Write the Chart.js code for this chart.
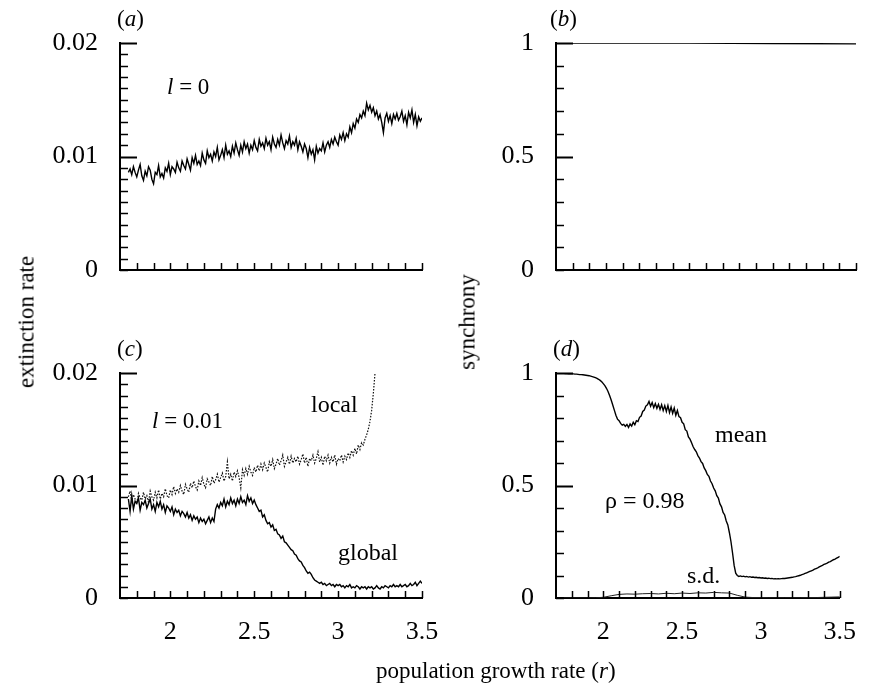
<!DOCTYPE html>
<html><head><meta charset="utf-8">
<script src="https://cdn.jsdelivr.net/npm/chart.js@4/dist/chart.umd.min.js"></script>
<style>
html,body{margin:0;padding:0;background:#fff;}
#wrap{position:relative;width:875px;height:689px;overflow:hidden;font-family:"Liberation Serif","Times New Roman",serif;color:#000;background:#fff;}
canvas{position:absolute;left:0;top:0;}
.t{position:absolute;white-space:nowrap;line-height:1;}
.rot{position:absolute;white-space:nowrap;line-height:1;transform:translate(-50%,-50%) rotate(-90deg);}
</style></head><body>
<div id="wrap">
<canvas id="ca" width="875" height="689"></canvas>
<canvas id="cb" width="875" height="689"></canvas>
<canvas id="cc" width="875" height="689"></canvas>
<canvas id="cd" width="875" height="689"></canvas>
</div>
<script>
// ---------- data ----------
const r = [
1.75,1.76,1.77,1.78,1.79,1.80,1.81,1.82,1.83,1.84,
1.85,1.86,1.87,1.88,1.89,1.90,1.91,1.92,1.93,1.94,
1.95,1.96,1.97,1.98,1.99,2.00,2.01,2.02,2.03,2.04,
2.05,2.06,2.07,2.08,2.09,2.10,2.11,2.12,2.13,2.14,
2.15,2.16,2.17,2.18,2.19,2.20,2.21,2.22,2.23,2.24,
2.25,2.26,2.27,2.28,2.29,2.30,2.31,2.32,2.33,2.34,
2.35,2.36,2.37,2.38,2.39,2.40,2.41,2.42,2.43,2.44,
2.45,2.46,2.47,2.48,2.49,2.50,2.51,2.52,2.53,2.54,
2.55,2.56,2.57,2.58,2.59,2.60,2.61,2.62,2.63,2.64,
2.65,2.66,2.67,2.68,2.69,2.70,2.71,2.72,2.73,2.74,
2.75,2.76,2.77,2.78,2.79,2.80,2.81,2.82,2.83,2.84,
2.85,2.86,2.87,2.88,2.89,2.90,2.91,2.92,2.93,2.94,
2.95,2.96,2.97,2.98,2.99,3.00,3.01,3.02,3.03,3.04,
3.05,3.06,3.07,3.08,3.09,3.10,3.11,3.12,3.13,3.14,
3.15,3.16,3.17,3.18,3.19,3.20,3.21,3.22,3.23,3.24,
3.25,3.26,3.27,3.28,3.29,3.30,3.31,3.32,3.33,3.34,
3.35,3.36,3.37,3.38,3.39,3.40,3.41,3.42,3.43,3.44,
3.45,3.46,3.47,3.48,3.49,3.50];

// (a) extinction rate, l = 0
const extinctionA = [
0.0086,0.0089,0.0084,0.0091,0.0086,0.0082,0.0088,0.0093,0.0083,0.0079,
0.0087,0.0083,0.0091,0.0088,0.0080,0.0076,0.0086,0.0084,0.0092,0.0082,
0.0085,0.0081,0.0090,0.0087,0.0094,0.0084,0.0091,0.0089,0.0086,0.0095,
0.0090,0.0087,0.0096,0.0092,0.0089,0.0098,0.0093,0.0088,0.0099,0.0094,
0.0101,0.0093,0.0096,0.0092,0.0103,0.0097,0.0094,0.0105,0.0099,0.0102,
0.0096,0.0104,0.0100,0.0108,0.0097,0.0101,0.0106,0.0099,0.0110,0.0102,
0.0105,0.0100,0.0109,0.0103,0.0112,0.0106,0.0101,0.0110,0.0104,0.0113,
0.0107,0.0111,0.0103,0.0110,0.0106,0.0114,0.0108,0.0105,0.0115,0.0109,
0.0112,0.0107,0.0116,0.0110,0.0113,0.0106,0.0117,0.0111,0.0108,0.0115,
0.0110,0.0119,0.0112,0.0107,0.0114,0.0111,0.0118,0.0108,0.0113,0.0110,
0.0116,0.0106,0.0113,0.0109,0.0104,0.0111,0.0107,0.0099,0.0108,0.0102,
0.0106,0.0097,0.0109,0.0103,0.0107,0.0105,0.0112,0.0104,0.0110,0.0113,
0.0108,0.0115,0.0111,0.0117,0.0113,0.0110,0.0119,0.0115,0.0121,0.0114,
0.0120,0.0117,0.0126,0.0121,0.0129,0.0125,0.0133,0.0130,0.0137,0.0134,
0.0140,0.0136,0.0147,0.0141,0.0145,0.0139,0.0143,0.0136,0.0140,0.0133,
0.0137,0.0130,0.0121,0.0134,0.0138,0.0131,0.0136,0.0129,0.0137,0.0133,
0.0138,0.0132,0.0135,0.0140,0.0131,0.0136,0.0128,0.0139,0.0134,0.0141,
0.0130,0.0137,0.0127,0.0135,0.0131,0.0134];

// (b) synchrony, l = 0
const rB = [1.75, 2.0, 2.5, 3.0, 3.5];
const synchronyB = [1, 1, 1, 0.998, 0.996];

// (c) extinction rate, l = 0.01
const localC = [
0.0090,0.0095,0.0086,0.0092,0.0088,0.0084,0.0093,0.0089,0.0087,0.0094,
0.0088,0.0091,0.0085,0.0095,0.0090,0.0087,0.0094,0.0089,0.0096,0.0088,
0.0093,0.0090,0.0097,0.0091,0.0089,0.0096,0.0092,0.0099,0.0093,0.0097,
0.0094,0.0100,0.0095,0.0092,0.0101,0.0097,0.0094,0.0102,0.0098,0.0104,
0.0099,0.0096,0.0104,0.0100,0.0107,0.0101,0.0098,0.0106,0.0103,0.0100,
0.0108,0.0102,0.0105,0.0110,0.0103,0.0107,0.0111,0.0104,0.0108,0.0121,
0.0106,0.0110,0.0104,0.0112,0.0108,0.0113,0.0107,0.0098,0.0114,0.0109,
0.0115,0.0110,0.0117,0.0112,0.0109,0.0116,0.0112,0.0118,0.0113,0.0119,
0.0114,0.0120,0.0116,0.0112,0.0121,0.0117,0.0123,0.0115,0.0119,0.0124,
0.0118,0.0122,0.0127,0.0117,0.0121,0.0125,0.0119,0.0126,0.0120,0.0124,
0.0121,0.0126,0.0119,0.0123,0.0128,0.0120,0.0125,0.0117,0.0124,0.0122,
0.0127,0.0120,0.0124,0.0130,0.0121,0.0125,0.0118,0.0126,0.0122,0.0127,
0.0120,0.0125,0.0121,0.0127,0.0119,0.0124,0.0122,0.0127,0.0121,0.0126,
0.0123,0.0129,0.0125,0.0131,0.0127,0.0133,0.0128,0.0136,0.0132,0.0138,
0.0136,0.0141,0.0145,0.0150,0.0157,0.0167,0.0182,0.0200];
const globalC = [
0.0088,0.0077,0.0091,0.0079,0.0086,0.0084,0.0089,0.0078,0.0085,0.0083,
0.0087,0.0080,0.0084,0.0088,0.0079,0.0083,0.0077,0.0085,0.0081,0.0086,
0.0079,0.0083,0.0076,0.0082,0.0080,0.0077,0.0081,0.0074,0.0079,0.0076,
0.0078,0.0073,0.0077,0.0075,0.0072,0.0076,0.0071,0.0074,0.0069,0.0073,
0.0070,0.0072,0.0067,0.0071,0.0068,0.0070,0.0066,0.0069,0.0072,0.0067,
0.0071,0.0068,0.0079,0.0083,0.0080,0.0085,0.0082,0.0088,0.0081,0.0086,
0.0083,0.0089,0.0084,0.0087,0.0082,0.0088,0.0084,0.0090,0.0085,0.0087,
0.0083,0.0091,0.0086,0.0089,0.0084,0.0087,0.0083,0.0080,0.0077,0.0078,
0.0072,0.0074,0.0069,0.0066,0.0067,0.0063,0.0065,0.0060,0.0061,0.0057,
0.0056,0.0053,0.0055,0.0050,0.0049,0.0047,0.0045,0.0043,0.0042,0.0039,
0.0038,0.0035,0.0033,0.0032,0.0029,0.0027,0.0024,0.0022,0.0023,0.0021,
0.0018,0.0016,0.0015,0.0014,0.0013,0.0014,0.0012,0.0013,0.0011,0.0012,
0.0013,0.0011,0.0012,0.0010,0.0012,0.0011,0.0012,0.0010,0.0011,0.0009,
0.0011,0.0010,0.0012,0.0009,0.0010,0.0009,0.0011,0.0010,0.0008,0.0010,
0.0009,0.0010,0.0008,0.0010,0.0009,0.0010,0.0008,0.0009,0.0011,0.0009,
0.0008,0.0010,0.0009,0.0011,0.0010,0.0009,0.0011,0.0010,0.0012,0.0010,
0.0011,0.0010,0.0012,0.0010,0.0011,0.0012,0.0010,0.0011,0.0013,0.0011,
0.0012,0.0014,0.0011,0.0013,0.0015,0.0013];

// (d) synchrony, rho = 0.98
const meanD = [
0.999,0.998,0.998,0.997,0.997,0.996,0.996,0.995,0.995,0.994,
0.993,0.993,0.992,0.991,0.990,0.989,0.988,0.986,0.984,0.982,
0.979,0.976,0.972,0.967,0.961,0.953,0.944,0.932,0.918,0.900,
0.880,0.858,0.835,0.812,0.795,0.788,0.776,0.768,0.772,0.763,
0.771,0.758,0.774,0.764,0.781,0.770,0.788,0.784,0.803,0.809,
0.829,0.835,0.853,0.859,0.874,0.852,0.869,0.846,0.864,0.843,
0.861,0.838,0.859,0.833,0.855,0.829,0.856,0.824,0.849,0.821,
0.844,0.812,0.833,0.806,0.801,0.781,0.774,0.748,0.742,0.716,
0.706,0.690,0.672,0.660,0.650,0.633,0.622,0.606,0.598,0.578,
0.566,0.549,0.541,0.520,0.508,0.489,0.476,0.455,0.444,0.418,
0.405,0.380,0.369,0.342,0.325,0.290,0.250,0.200,0.145,0.110,
0.100,0.096,0.098,0.095,0.097,0.094,0.096,0.093,0.095,0.092,
0.093,0.091,0.092,0.090,0.091,0.089,0.090,0.088,0.089,0.087,
0.088,0.086,0.087,0.085,0.086,0.085,0.086,0.085,0.086,0.087,
0.087,0.088,0.089,0.090,0.091,0.092,0.094,0.095,0.097,0.099,
0.101,0.104,0.106,0.109,0.112,0.115,0.118,0.121,0.124,0.128,
0.131,0.134,0.138,0.142,0.145,0.149,0.152,0.155,0.159,0.162,
0.166,0.170,0.173,0.177,0.181,0.185];
const rSd = [1.75,1.80,1.85,1.90,1.95,2.00,2.05,2.10,2.15,2.20,2.25,2.30,2.35,2.40,2.45,2.50,2.55,2.60,
             2.65,2.70,2.75,2.80,2.85,2.90,2.95,3.00,3.05,3.10,3.15,3.20,3.25,3.30,3.35,3.40,3.45,3.50];
const sdD = [0.000,0.000,0.000,0.000,0.001,0.003,0.010,0.016,0.018,0.017,0.019,0.020,0.018,0.021,0.019,0.022,0.020,0.023,
             0.022,0.025,0.023,0.022,0.012,0.004,0.002,0.002,0.001,0.001,0.001,0.001,0.001,0.002,0.002,0.003,0.004,0.005];

// ticks
const xTicks = [1.8,1.9,2.0,2.1,2.2,2.3,2.4,2.5,2.6,2.7,2.8,2.9,3.0,3.1,3.2,3.3,3.4,3.5];
const xTickLabels = {2:'2', 2.5:'2.5', 3:'3', 3.5:'3.5'};
const yTicksExt = [0,0.001,0.002,0.003,0.004,0.005,0.006,0.007,0.008,0.009,0.010,0.011,0.012,0.013,0.014,0.015,0.016,0.017,0.018,0.019,0.020];
const yLabelsExt = {0:'0', 0.01:'0.01', 0.02:'0.02'};
const yMajorExt = [0.01, 0.02];
const yTicksSyn = [0,0.1,0.2,0.3,0.4,0.5,0.6,0.7,0.8,0.9,1];
const yLabelsSyn = {0:'0', 0.5:'0.5', 1:'1'};
const yMajorSyn = [0.5, 1];

// ---------- charts ----------
function lookup(map, v) {
  for (const k in map) if (Math.abs(parseFloat(k) - v) < 1e-9) return map[k];
  return '';
}
function pts(xs, ys) { return ys.map((y, i) => ({x: xs[i], y})); }

function tickPlugin(major) {
  return {
    id: 'inwardTicks',
    afterDatasetsDraw(chart) {
      const ctx = chart.ctx, ca = chart.chartArea;
      const xs = chart.scales.x, ys = chart.scales.y;
      ctx.save();
      ctx.strokeStyle = '#000';
      xs.ticks.forEach(t => {
        const px = Math.round(xs.getPixelForValue(t.value)) + 0.5;
        ctx.lineWidth = 1.5;
        ctx.beginPath(); ctx.moveTo(px, ca.bottom); ctx.lineTo(px, ca.bottom - 7); ctx.stroke();
      });
      ys.ticks.forEach(t => {
        const py = Math.round(ys.getPixelForValue(t.value)) + 0.5;
        const isMajor = major.some(m => Math.abs(m - t.value) < 1e-9);
        ctx.lineWidth = isMajor ? 2 : 1.5;
        ctx.beginPath(); ctx.moveTo(ca.left, py); ctx.lineTo(ca.left + (isMajor ? 17 : 8), py); ctx.stroke();
      });
      ctx.restore();
    }
  };
}

function makeChart(id, datasets, yMax, yTicks, yLabels, yMajor, showX, pad) {
  return new Chart(document.getElementById(id), {
    type: 'line',
    data: { datasets },
    plugins: [tickPlugin(yMajor)],
    options: {
      responsive: false, animation: false, devicePixelRatio: 1,
      layout: { padding: pad, autoPadding: false },
      plugins: { legend: {display: false}, tooltip: {enabled: false}, title: {display: false} },
      elements: { point: {radius: 0}, line: {tension: 0} },
      scales: {
        x: {
          type: 'linear', min: 1.7, max: 3.5,
          afterBuildTicks: s => { s.ticks = xTicks.map(v => ({value: v})); },
          afterFit: s => { s.height = 50; },
          grid: {display: false, drawTicks: false},
          border: {display: true, color: '#000', width: 2},
          ticks: {
            autoSkip: false, maxRotation: 0, minRotation: 0, padding: 19, color: '#000',
            font: {family: 'Liberation Serif', size: 26},
            callback: v => showX ? lookup(xTickLabels, v) : ''
          }
        },
        y: {
          type: 'linear', min: 0, max: yMax,
          afterBuildTicks: s => { s.ticks = yTicks.map(v => ({value: v})); },
          afterFit: s => { s.width = 100; },
          grid: {display: false, drawTicks: false},
          border: {display: true, color: '#000', width: 2},
          ticks: {
            autoSkip: false, padding: 22, color: '#000',
            font: {family: 'Liberation Serif', size: 26},
            callback: v => lookup(yLabels, v)
          }
        }
      }
    }
  });
}

const solid = (data) => ({data, borderColor: '#000', borderWidth: 1.4, pointRadius: 0, fill: false});

makeChart('ca', [solid(pts(r, extinctionA))], 0.02, yTicksExt, yLabelsExt, yMajorExt, false,
  {left: 20, top: 43, right: 453, bottom: 369});
makeChart('cb', [solid(pts(rB, synchronyB))], 1, yTicksSyn, yLabelsSyn, yMajorSyn, false,
  {left: 456, top: 43, right: 17, bottom: 369});
makeChart('cc', [
  {data: pts(r, localC), borderColor: '#111', borderWidth: 1.2, borderDash: [1.5, 1.5], pointRadius: 0, fill: false},
  solid(pts(r, globalC))
], 0.02, yTicksExt, yLabelsExt, yMajorExt, true,
  {left: 20, top: 373, right: 453, bottom: 41});
makeChart('cd', [
  solid(pts(r, meanD)),
  {data: pts(rSd, sdD), borderColor: '#222', borderWidth: 1, pointRadius: 0, fill: false}
], 1, yTicksSyn, yLabelsSyn, yMajorSyn, true,
  {left: 456, top: 373, right: 17, bottom: 41});

// ---------- text ----------
const wrap = document.getElementById('wrap');
function place(html, left, baseline, size) {
  const d = document.createElement('div');
  d.className = 't';
  d.style.fontSize = size + 'px';
  d.style.left = left + 'px';
  d.style.top = (baseline - 0.8375 * size) + 'px';
  d.innerHTML = html;
  wrap.appendChild(d);
}
function placeRot(html, cx, cy, size) {
  const d = document.createElement('div');
  d.className = 'rot';
  d.style.fontSize = size + 'px';
  d.style.left = cx + 'px';
  d.style.top = cy + 'px';
  d.innerHTML = html;
  wrap.appendChild(d);
}
place('(<i>a</i>)', 117, 26, 23);
place('(<i>b</i>)', 550, 26, 23);
place('(<i>c</i>)', 117, 356, 23);
place('(<i>d</i>)', 553, 356, 23);
place('<i>l</i> = 0', 167, 94, 23);
place('<i>l</i> = 0.01', 152, 428, 23);
place('local', 311, 412, 24);
place('global', 338, 560, 24);
place('mean', 715, 442, 24);
place('ρ = 0.98', 605, 508, 24);
place('s.d.', 687, 583, 24);
place('population growth rate (<i>r</i>)', 376, 678, 23);
placeRot('extinction rate', 26, 322, 23);
placeRot('synchrony', 467, 322, 23);
</script>
</body></html>
